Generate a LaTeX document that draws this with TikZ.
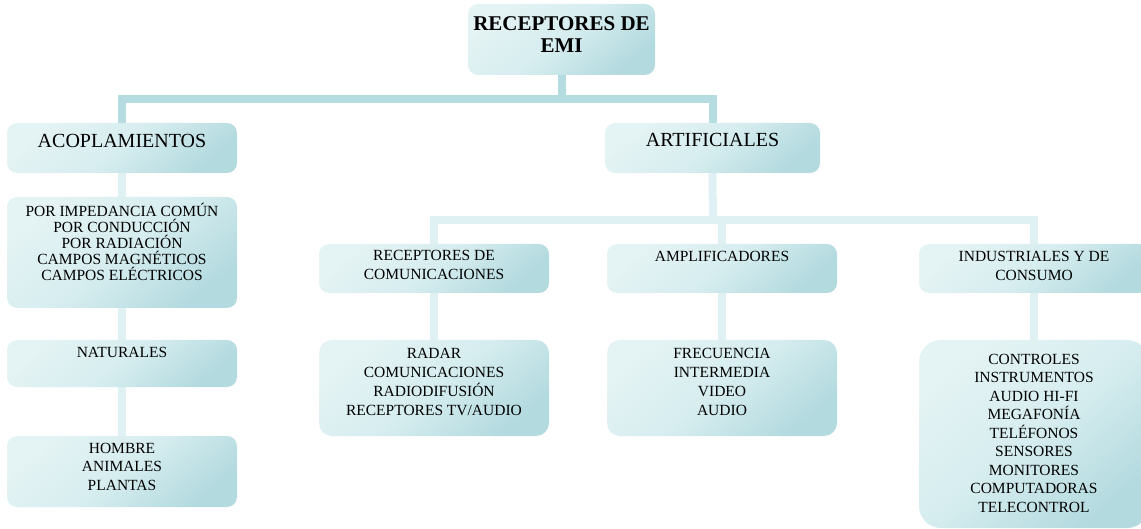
\documentclass[tikz,border=0pt]{standalone}
\usepackage{fontspec}
\setmainfont{Liberation Serif}
\usetikzlibrary{backgrounds}
\definecolor{boxL}{HTML}{E4F3F4}
\definecolor{boxM}{HTML}{D6EDEF}
\definecolor{boxR}{HTML}{B3DADF}
\definecolor{connD}{HTML}{B5DCE0}
\definecolor{connL}{HTML}{E0F1F3}
\newcommand\firststrut{\rule{0pt}{15pt}}
\tikzset{
  box/.style={draw=none, rounded corners=#1, top color=boxL, bottom color=boxR, middle color=boxM, shading angle=40, inner sep=0pt},
  box/.default=10pt,
  txtbig/.style={anchor=north, inner sep=0pt, align=center, font=\fontsize{20}{24}\selectfont},
  txttop/.style={anchor=north, inner sep=0pt, align=center, font=\fontsize{21}{22}\selectfont\bfseries},
  txt/.style={anchor=north, inner sep=0pt, align=center, font=\fontsize{15.5}{19}\selectfont},
  txttight/.style={anchor=north, inner sep=0pt, align=center, font=\fontsize{15.5}{16}\selectfont},
  txtmid/.style={anchor=north, inner sep=0pt, align=center, font=\fontsize{15.5}{18.5}\selectfont},
  connd/.style={draw=connD, line width=8pt},
  connl/.style={draw=connL, line width=8pt},
}
\begin{document}
\begin{tikzpicture}[x=1pt,y=-1pt]
\useasboundingbox (0,0) rectangle (1141,529);
\clip (0,0) rectangle (1141,529);
% boxes
\node[box, minimum width=187pt, minimum height=71pt] (top) at (561.5,39.5) {};
\node[box, minimum width=230pt, minimum height=50pt] (acop) at (122,148) {};
\node[box, minimum width=215pt, minimum height=50pt] (artif) at (712.5,148) {};
\node[box, minimum width=230pt, minimum height=111pt] (imped) at (122,252.5) {};
\node[box, minimum width=230pt, minimum height=47pt] (natur) at (122,363.5) {};
\node[box, minimum width=230pt, minimum height=71pt] (hombre) at (122,471.5) {};
\node[box, minimum width=230pt, minimum height=49pt] (recep) at (434,268.5) {};
\node[box, minimum width=230pt, minimum height=49pt] (ampl) at (722,268.5) {};
\node[box, minimum width=230pt, minimum height=49pt] (indus) at (1034,268.5) {};
\node[box=13pt, minimum width=230pt, minimum height=96pt] (radar) at (434,388) {};
\node[box=13pt, minimum width=230pt, minimum height=96pt] (frec) at (722,388) {};
\node[box=22pt, minimum width=230pt, minimum height=188pt] (contr) at (1034,434) {};
% texts
\node[txttop] (topT) at ([yshift=-12pt]top.north) {\firststrut RECEPTORES DE\\EMI};
\node[txtbig] (acopT) at ([yshift=-9.5pt]acop.north) {\firststrut ACOPLAMIENTOS};
\node[txtbig] (artifT) at ([yshift=-9pt]artif.north) {\firststrut ARTIFICIALES};
\node[txttight] (impedT) at ([yshift=-4.5pt]imped.north) {\firststrut POR IMPEDANCIA COMÚN\\POR CONDUCCIÓN\\POR RADIACIÓN\\CAMPOS MAGNÉTICOS\\CAMPOS ELÉCTRICOS};
\node[txt] (naturT) at ([yshift=-3pt]natur.north) {\firststrut NATURALES};
\node[txtmid] (hombreT) at ([yshift=-2pt]hombre.north) {\firststrut HOMBRE\\ANIMALES\\PLANTAS};
\node[txt] (recepT) at ([yshift=-2pt]recep.north) {\firststrut RECEPTORES DE\\COMUNICACIONES};
\node[txt] (amplT) at ([yshift=-3pt]ampl.north) {\firststrut AMPLIFICADORES};
\node[txt] (indusT) at ([yshift=-2.5pt]indus.north) {\firststrut INDUSTRIALES Y DE\\CONSUMO};
\node[txt] (radarT) at ([yshift=-3.5pt]radar.north) {\firststrut RADAR\\COMUNICACIONES\\RADIODIFUSIÓN\\RECEPTORES TV/AUDIO};
\node[txt] (frecT) at ([yshift=-3.5pt]frec.north) {\firststrut FRECUENCIA\\INTERMEDIA\\VIDEO\\AUDIO};
\node[txtmid] (contrT) at ([yshift=-9pt]contr.north) {\firststrut CONTROLES\\INSTRUMENTOS\\AUDIO HI-FI\\MEGAFONÍA\\TELÉFONOS\\SENSORES\\MONITORES\\COMPUTADORAS\\TELECONTROL};
% connectors
\coordinate (j1) at (561.5,99.5);
\coordinate (j2) at (713,220);
\begin{scope}[on background layer]
\draw[connd] (top.south) -- (j1);
\draw[connd] (acop.north) |- (j1) -| (artif.north);
\draw[connl] (acop.south) -- (imped.north);
\draw[connl] (imped.south) -- (natur.north);
\draw[connl] (natur.south) -- (hombre.north);
\draw[connl] (artif.south) -- (j2);
\draw[connl] (recep.north) |- (j2) -| (indus.north);
\draw[connl] (ampl.north) -- (ampl.north |- j2);
\draw[connl] (recep.south) -- (radar.north);
\draw[connl] (ampl.south) -- (frec.north);
\draw[connl] (indus.south) -- (contr.north);
\end{scope}
\end{tikzpicture}
\end{document}
